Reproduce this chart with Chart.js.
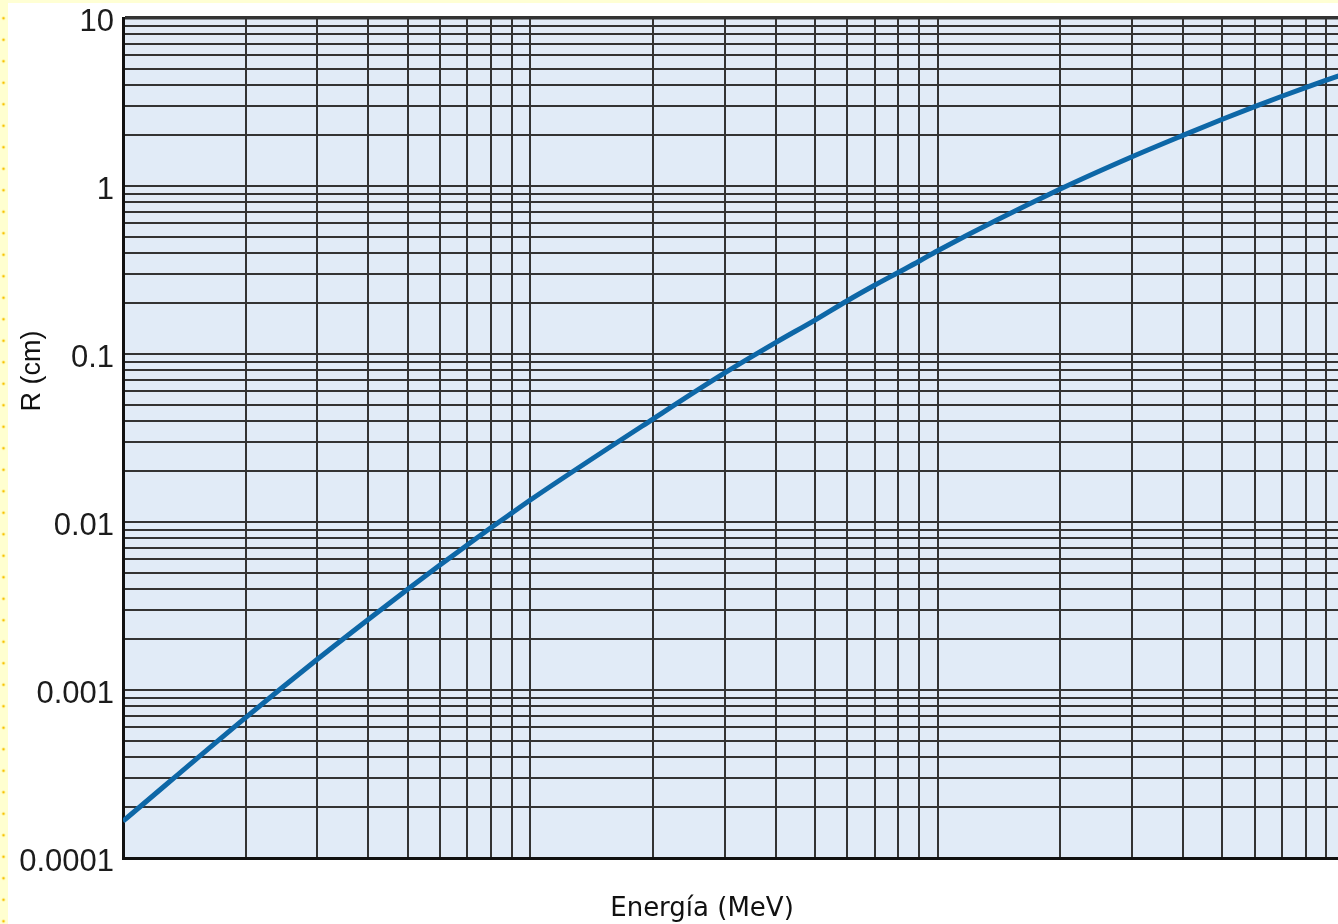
<!DOCTYPE html>
<html lang="es">
<head>
<meta charset="utf-8">
<title>Alcance de electrones</title>
<script src="https://cdn.jsdelivr.net/npm/chart.js@4.4.1/dist/chart.umd.min.js"></script>
<style>
  html, body { margin: 0; padding: 0; }
  body { width: 1338px; height: 924px; overflow: hidden; background: #ffffff; position: relative; }
  #plot { position: absolute; left: 0; top: 0; }
  #topStrip { position: absolute; left: 0; top: 0; width: 1338px; height: 3px; background: #FFFFD4; z-index: 2; }
  #leftStrip {
    position: absolute; left: 0; top: 0; width: 8px; height: 924px; z-index: 3;
    background-color: #FFFFD0;
    background-image: radial-gradient(circle, #F7C300 1.1px, rgba(247,195,0,0) 1.7px);
    background-size: 8px 21.5px;
    background-position: -0.5px 7.5px;
  }
</style>
</head>
<body>
<canvas id="plot" width="1365" height="924"></canvas>
<div id="topStrip"></div>
<div id="leftStrip"></div>
<script>
// Energía cinética (MeV) y alcance R (cm)
const energyMeV = [0.01, 0.02, 0.03, 0.04, 0.05, 0.06, 0.07, 0.08, 0.09,
                   0.1, 0.2, 0.3, 0.4, 0.5, 0.6, 0.7, 0.8, 0.9,
                   1, 2, 3, 4, 5, 6, 7, 8, 9, 10];
const rangeCm = [0.0001656, 0.000685, 0.001524, 0.00263, 0.00398, 0.00555, 0.00729, 0.00923, 0.01130,
                 0.01352, 0.0410, 0.0771, 0.1169, 0.1592, 0.2075, 0.2564, 0.3055, 0.3565,
                 0.412, 0.959, 1.493, 2.002, 2.497, 2.969, 3.42, 3.853, 4.264, 4.654];

// Décadas de los ejes y sus etiquetas
const yDecades = [0.0001, 0.001, 0.01, 0.1, 1, 10];
const yTickLabels = ['0.0001', '0.001', '0.01', '0.1', '1', '10'];
const xDecades = [0.01, 0.1, 1, 10];

const yTitle = 'R (cm)';
const xTitle = 'Energía (MeV)';

// Líneas de cuadrícula 1..9 en cada década
function decadeGrid(decades) {
  const vals = [];
  for (let i = 0; i < decades.length - 1; i++) {
    for (let m = 1; m <= 9; m++) vals.push(m * decades[i]);
  }
  vals.push(decades[decades.length - 1]);
  return vals;
}
function sameValue(a, b) {
  return Math.abs(Math.log10(a) - Math.log10(b)) < 1e-6;
}

const GRID = '#333333';

const plotBackground = {
  id: 'plotBackground',
  beforeDraw(chart) {
    const { ctx, chartArea: a } = chart;
    ctx.save();
    ctx.fillStyle = '#E1EBF7';
    ctx.fillRect(a.left, a.top, a.right - a.left, a.bottom - a.top);
    ctx.restore();
  }
};

const axisCaptions = {
  id: 'axisCaptions',
  afterDraw(chart) {
    const { ctx, chartArea: a } = chart;
    ctx.save();
    ctx.fillStyle = '#111111';
    ctx.textAlign = 'center';
    ctx.textBaseline = 'middle';
    // título del eje vertical
    ctx.save();
    ctx.translate(a.left - 90, a.top + 353);
    ctx.rotate(-Math.PI / 2);
    ctx.font = '27px "Liberation Sans", Arial, sans-serif';
    ctx.fillText(yTitle, 0, 0);
    ctx.restore();
    // título del eje horizontal
    ctx.font = '26px "Comic Sans MS", "DejaVu Sans", sans-serif';
    ctx.textBaseline = 'alphabetic';
    ctx.fillText(xTitle, 702, 916);
    ctx.restore();
  }
};

new Chart(document.getElementById('plot'), {
  type: 'line',
  data: {
    datasets: [{
      data: energyMeV.map((e, i) => ({ x: e, y: rangeCm[i] })),
      borderColor: '#0D67A7',
      borderWidth: 5,
      pointRadius: 0,
      cubicInterpolationMode: 'monotone',
      fill: false
    }]
  },
  options: {
    responsive: false,
    animation: false,
    layout: { padding: { left: 0, top: 18, right: 20, bottom: 66 } },
    plugins: { legend: { display: false }, tooltip: { enabled: false }, title: { display: false } },
    scales: {
      x: {
        type: 'logarithmic',
        min: xDecades[0],
        max: xDecades[xDecades.length - 1],
        afterBuildTicks(scale) { scale.ticks = decadeGrid(xDecades).map(v => ({ value: v })); },
        afterFit(scale) { scale.height = 0; scale.paddingLeft = 0; scale.paddingRight = 0; },
        ticks: { display: false, autoSkip: false },
        grid: { color: GRID, lineWidth: 2, drawTicks: false },
        border: { display: true, color: '#111111', width: 3 },
        title: { display: false }
      },
      y: {
        type: 'logarithmic',
        min: yDecades[0],
        max: yDecades[yDecades.length - 1],
        afterBuildTicks(scale) { scale.ticks = decadeGrid(yDecades).map(v => ({ value: v })); },
        afterFit(scale) { scale.width = 123; scale.paddingTop = 0; scale.paddingBottom = 0; },
        ticks: {
          autoSkip: false,
          padding: 9,
          labelOffset: 4,
          color: '#1c1c1c',
          font: { family: '"Liberation Sans", Arial, sans-serif', size: 31 },
          callback(value) {
            const i = yDecades.findIndex(d => sameValue(d, value));
            return i >= 0 ? yTickLabels[i] : '';
          }
        },
        grid: {
          color: GRID,
          drawTicks: false,
          lineWidth: ctx => (ctx.tick && sameValue(ctx.tick.value, yDecades[yDecades.length - 1])) ? 3.5 : 2
        },
        border: { display: true, color: '#111111', width: 3 },
        title: { display: false }
      }
    }
  },
  plugins: [plotBackground, axisCaptions]
});
</script>
</body>
</html>
